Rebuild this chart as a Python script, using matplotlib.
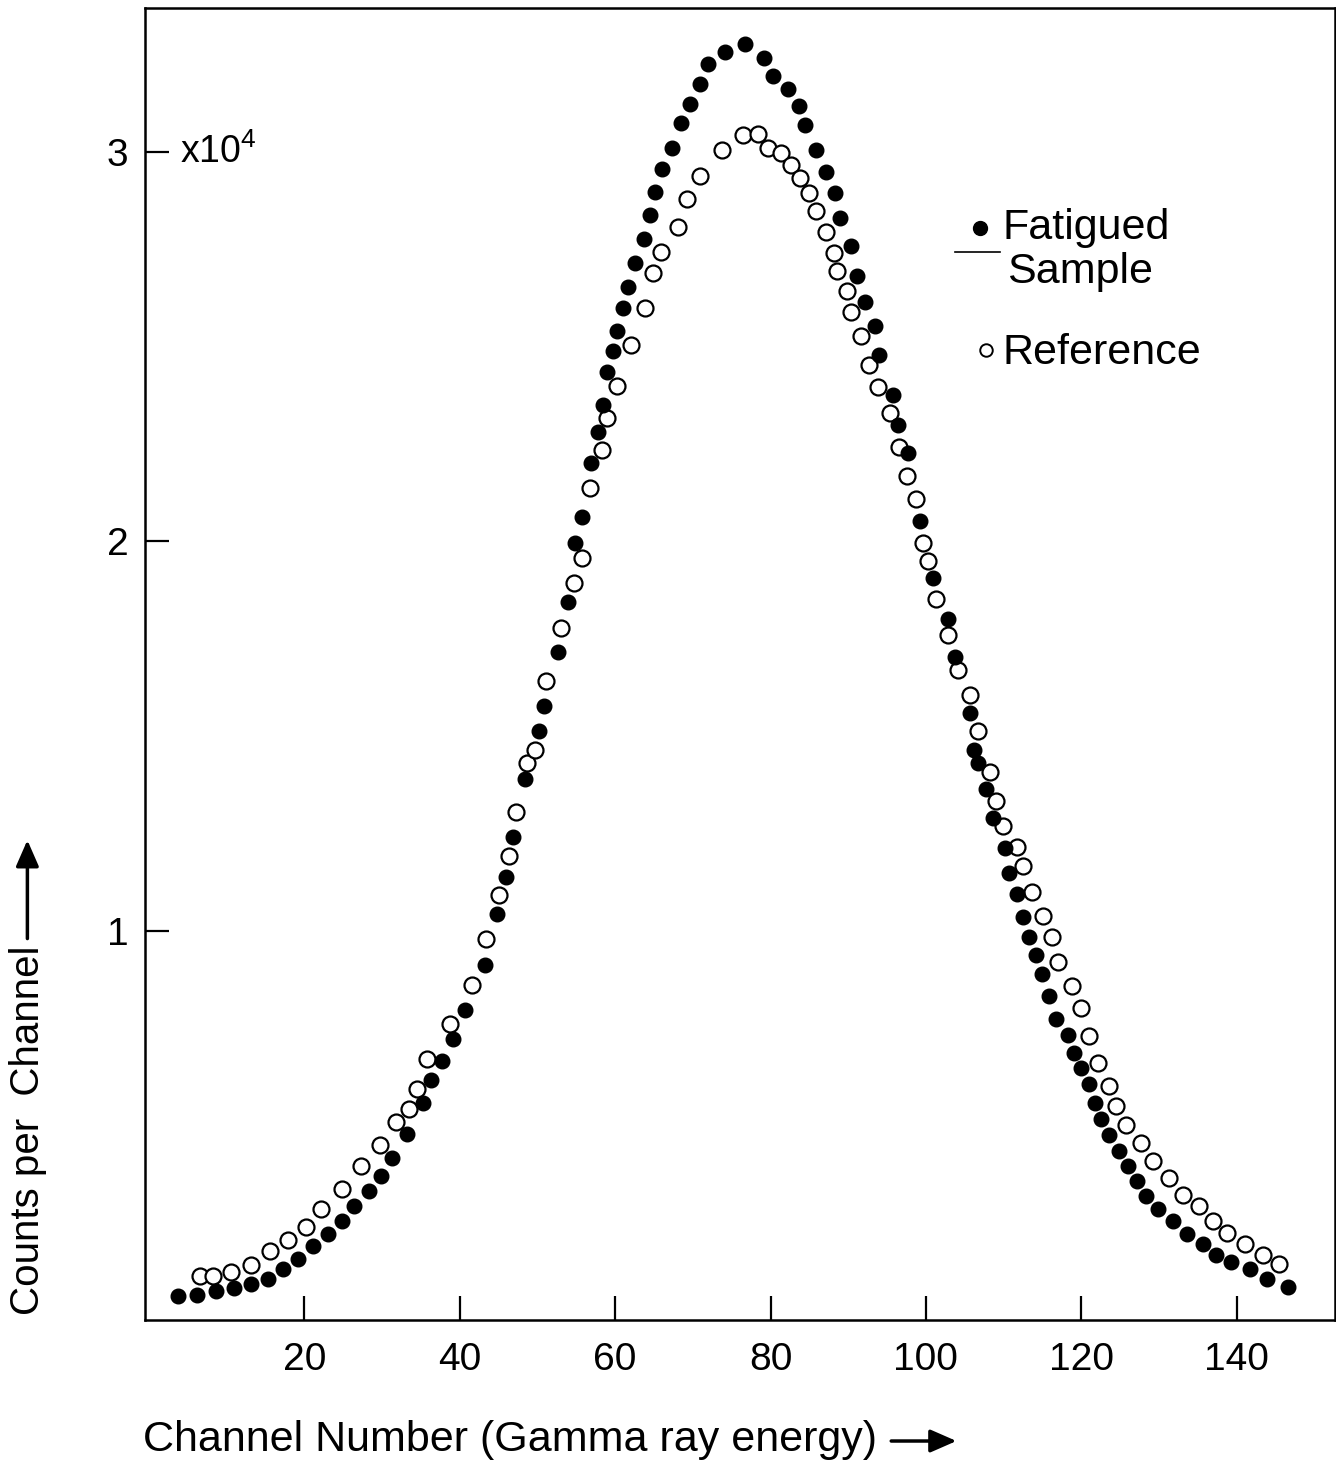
import matplotlib
matplotlib.use('Agg')
import matplotlib.pyplot as plt

plt.rcParams['font.family'] = ['Liberation Sans', 'DejaVu Sans']
plt.rcParams['mathtext.default'] = 'regular'

# Fatigued sample (filled dots): channel, counts per channel in units of 1e4
fat_ch = [3.7, 6.2, 8.6, 10.9, 13.1, 15.3, 17.3, 19.2, 21.1, 23.0,
          24.9, 26.4, 28.3, 29.9, 31.3, 33.2, 35.3, 36.3, 37.7, 39.2,
          40.7, 43.3, 44.8, 46.0, 46.9, 48.4, 50.2, 50.9, 52.6, 53.9,
          54.9, 55.8, 56.9, 57.8, 58.5, 59.0, 59.7, 60.3, 61.0, 61.6,
          62.5, 63.7, 64.5, 65.2, 66.1, 67.3, 68.5, 69.6, 70.9, 72.0,
          74.2, 76.7, 79.1, 80.3, 82.2, 83.7, 84.5, 85.8, 87.1, 88.3,
          89.0, 90.3, 91.1, 92.1, 93.4, 94.0, 95.7, 96.4, 97.7, 99.2,
          100.9, 102.8, 103.8, 105.7, 106.2, 106.7, 107.7, 108.6, 110.2, 110.7,
          111.7, 112.5, 113.3, 114.2, 114.9, 115.9, 116.7, 118.3, 119.0, 120.0,
          121.0, 121.7, 122.5, 123.6, 124.9, 126.0, 127.2, 128.3, 129.9, 131.8,
          133.6, 135.6, 137.3, 139.3, 141.7, 143.9, 146.6]
fat_cnt = [0.061, 0.065, 0.074, 0.082, 0.093, 0.106, 0.131, 0.157, 0.189, 0.221,
           0.255, 0.292, 0.331, 0.369, 0.416, 0.478, 0.558, 0.617, 0.666, 0.723,
           0.797, 0.913, 1.044, 1.138, 1.241, 1.389, 1.513, 1.576, 1.717, 1.845,
           1.995, 2.064, 2.202, 2.282, 2.350, 2.436, 2.489, 2.541, 2.599, 2.653,
           2.715, 2.778, 2.838, 2.898, 2.958, 3.012, 3.074, 3.123, 3.174, 3.226,
           3.258, 3.277, 3.241, 3.196, 3.162, 3.120, 3.071, 3.005, 2.949, 2.894,
           2.831, 2.759, 2.682, 2.614, 2.553, 2.479, 2.376, 2.299, 2.228, 2.053,
           1.906, 1.802, 1.704, 1.559, 1.463, 1.432, 1.364, 1.289, 1.212, 1.148,
           1.095, 1.034, 0.984, 0.938, 0.888, 0.833, 0.774, 0.733, 0.686, 0.646,
           0.605, 0.558, 0.515, 0.474, 0.435, 0.395, 0.356, 0.318, 0.285, 0.254,
           0.221, 0.194, 0.168, 0.148, 0.130, 0.104, 0.085]

# Reference sample (open circles)
ref_ch = [6.6, 8.3, 10.6, 13.2, 15.6, 17.9, 20.2, 22.2, 24.8, 27.3,
          29.8, 31.8, 33.5, 34.5, 35.8, 38.7, 41.6, 43.4, 45.1, 46.3,
          47.2, 48.7, 49.7, 51.1, 53.0, 54.7, 55.8, 56.8, 58.3, 59.0,
          60.3, 62.1, 63.9, 64.9, 65.9, 68.1, 69.2, 70.9, 73.7, 76.5,
          78.4, 79.7, 81.4, 82.7, 83.8, 84.9, 85.9, 87.2, 88.2, 88.6,
          89.9, 90.3, 91.6, 92.7, 93.8, 95.4, 96.6, 97.6, 98.7, 99.6,
          100.3, 101.3, 102.9, 104.1, 105.7, 106.7, 108.3, 109.0, 109.9, 111.7,
          112.5, 113.7, 115.1, 116.2, 117.0, 118.8, 120.0, 121.0, 122.1, 123.5,
          124.5, 125.8, 127.7, 129.2, 131.3, 133.1, 135.2, 136.9, 138.8, 141.1,
          143.4, 145.4]
ref_cnt = [0.112, 0.112, 0.123, 0.142, 0.177, 0.205, 0.239, 0.285, 0.337, 0.395,
           0.449, 0.508, 0.543, 0.594, 0.671, 0.761, 0.860, 0.979, 1.092, 1.193,
           1.304, 1.431, 1.463, 1.642, 1.777, 1.894, 1.957, 2.137, 2.235, 2.316,
           2.399, 2.504, 2.599, 2.689, 2.743, 2.808, 2.879, 2.939, 3.005, 3.044,
           3.047, 3.012, 2.997, 2.967, 2.933, 2.894, 2.848, 2.795, 2.742, 2.696,
           2.644, 2.589, 2.528, 2.453, 2.397, 2.329, 2.243, 2.169, 2.108, 1.997,
           1.951, 1.851, 1.760, 1.669, 1.606, 1.513, 1.409, 1.332, 1.270, 1.215,
           1.165, 1.099, 1.039, 0.983, 0.919, 0.859, 0.802, 0.730, 0.659, 0.600,
           0.549, 0.502, 0.455, 0.408, 0.365, 0.322, 0.292, 0.254, 0.224, 0.196,
           0.166, 0.145]

x_ticks = [20, 40, 60, 80, 100, 120, 140]
y_ticks = [1, 2, 3]

fig = plt.figure(figsize=(13.36, 14.64), dpi=100)
ax = fig.add_axes([0.1085, 0.0984, 0.8905, 0.896])

# open circles first, filled dots drawn on top
ax.plot(ref_ch, ref_cnt, linestyle='none', marker='o', markersize=11.5,
        markerfacecolor='white', markeredgecolor='black', markeredgewidth=1.6)
ax.plot(fat_ch, fat_cnt, linestyle='none', marker='o', markersize=10.5,
        markerfacecolor='black', markeredgecolor='black')

ax.set_xlim(-0.5, 152.6)
ax.set_ylim(0, 3.37)
ax.set_xticks(x_ticks)
ax.set_yticks(y_ticks)
ax.tick_params(axis='both', direction='in', length=17, width=1.6, labelsize=28)
ax.tick_params(axis='x', pad=16)
ax.tick_params(axis='y', pad=12)
for s in ax.spines.values():
    s.set_linewidth(1.8)

ax.text(4.0, 3.0, 'x10$^4$', fontsize=27, va='center', ha='left')

# legend drawn by hand, like the original lettering
ax.plot([0.7018], [0.8325], transform=ax.transAxes, marker='o', markersize=10,
        color='black', linestyle='none')
ax.plot([0.681, 0.719], [0.8145, 0.8145], transform=ax.transAxes,
        color='black', linewidth=1.2)
ax.text(0.7212, 0.8325, 'Fatigued', transform=ax.transAxes, fontsize=31,
        va='center', ha='left')
ax.text(0.7245, 0.799, 'Sample', transform=ax.transAxes, fontsize=31,
        va='center', ha='left')
ax.plot([0.7069], [0.7395], transform=ax.transAxes, marker='o', markersize=9,
        markerfacecolor='white', markeredgecolor='black', markeredgewidth=1.4,
        linestyle='none')
ax.text(0.7212, 0.7375, 'Reference', transform=ax.transAxes, fontsize=31,
        va='center', ha='left')

# axis titles with arrows
fig.text(0.107, 0.0164, 'Channel Number (Gamma ray energy)', fontsize=31,
         ha='left', va='center')
fig.patches.append(matplotlib.patches.FancyArrowPatch(
    (0.665, 0.0157), (0.718, 0.0157), transform=fig.transFigure,
    arrowstyle='-|>,head_length=0.8,head_width=0.35', mutation_scale=20,
    linewidth=2.5, color='black'))
fig.text(0.021, 0.228, 'Counts per  Channel', fontsize=29, rotation=90,
         ha='center', va='center')
fig.patches.append(matplotlib.patches.FancyArrowPatch(
    (0.0205, 0.357), (0.0205, 0.428), transform=fig.transFigure,
    arrowstyle='-|>,head_length=0.8,head_width=0.35', mutation_scale=20,
    linewidth=2.5, color='black'))

fig.savefig('out.png', dpi=100)
